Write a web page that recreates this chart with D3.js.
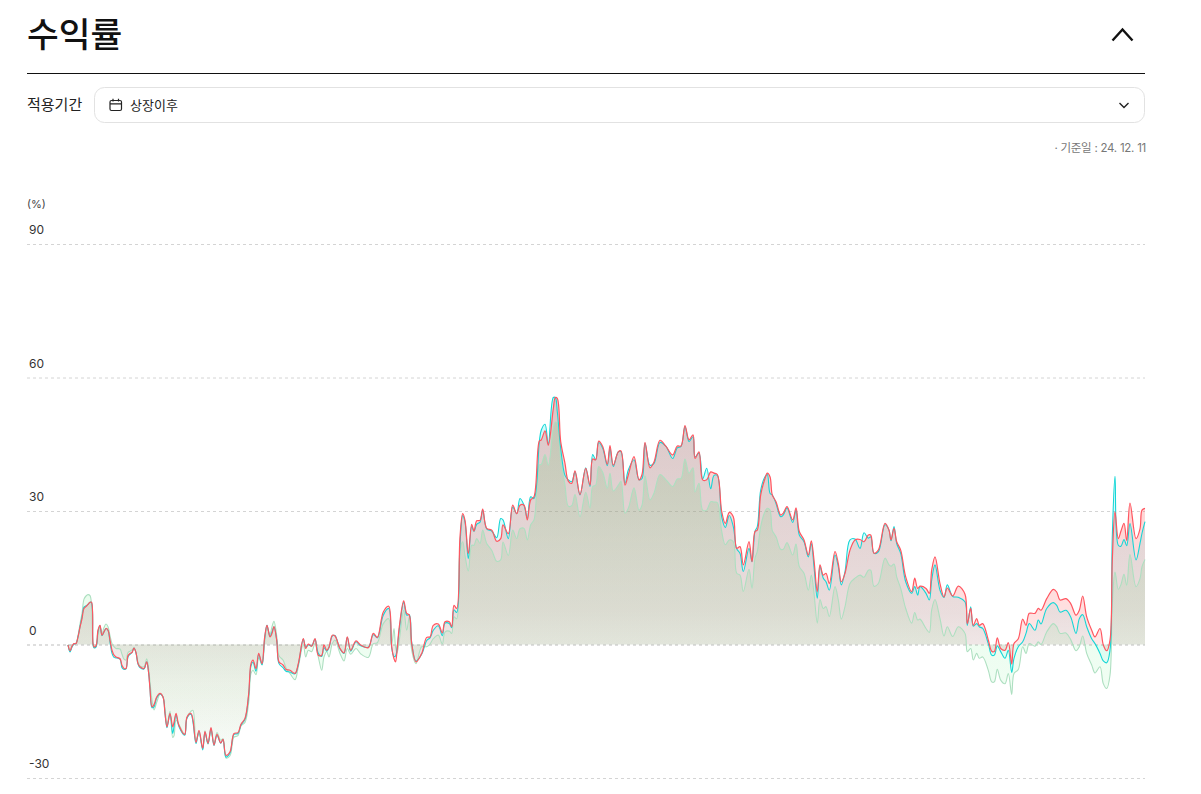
<!DOCTYPE html>
<html lang="ko">
<head>
<meta charset="utf-8">
<script src="https://cdn.jsdelivr.net/npm/d3@7/dist/d3.min.js"></script>
<style>
    html, body { margin: 0; padding: 0; background: #fff; }
    svg { display: block; }
    text { font-family: Inter, "Noto Sans CJK KR", sans-serif; }
</style>
</head>
<body>
<div id="chart"></div>
<script>
// chart values (returns in %)
const yTicks = [90, 60, 30, 0, -30];

const sessions = [
    0,2,4,6,8,10,12,14,16,18,
    20,22,23.5,25,26,28,30,32,34,36,
    38,40,42,44,46,48,52,54,56,58,
    60,62,64,66,68,70,72,76,78.7,80.7,
    82,84,86,88.7,92,95,97,99,102,104.7,
    106,108,111,116.7,119,123,125,128,131,134.7,
    137,140,143,146,149,152.7,155,158,162,166,
    170,173,177,180.7,183,185,188,190.7,194,196.7,
    199,202,204,206,208.7,211,215,218,222,227,
    230.3,235.3,237.7,240.3,243.7,247,250.3,253.7,256,258.7,
    261,264.3,267,272,276,279.3,282.7,288,292.7,300.3,
    305.3,309.3,315.3,320.7,323.7,326,327.5,329,331.3,335.7,
    338.7,341.3,343.7,348,353.7,358.7,362,365.3,370.3,374.3,
    377,381.3,383.7,386,388.7,392,394.7,397,400.3,403.7,
    406,408.7,412,414.7,418.7,423.7,428.7,432.7,435,440.3,
    444.7,448.7,452,456,459.3,462.7,466,471.3,473.3,477,
    480.3,485.3,487.3,489.3,492.7,497,500.3,503.7,507,512,
    517.7,522,524.7,527.7,530.7,534.7,539.3,542,545.3,550.3,
    553,557,560.3,566,571,574,577,582,586,592,
    598,604.7,609.3,613,617,621,625,627,631,634.7,
    638.7,642.7,646,649.3,653.7,657.3,661.3,665.3,668.7,672,
    675.3,681,684,687,689.3,692.7,697,699.3,702,704.3,
    708,712.7,715.3,719,724.7,728,731.3,736,740.3,743.3,
    746,749.3,752,755.3,758,761.3,767,770.3,773.3,777,
    782,787,792,796,800.3,802.7,806,810.3,817,821,
    823,826,828.7,832.7,837.7,843.7,846.7,849.7,852,858,
    861.3,863.7,867,872,876,879.3,884.7,890.3,897,899.3,
    902.7,905.3,908.7,911.3,914.7,920.3,923.7,926.3,929.3,932.7,
    937,940.3,943.7,946,950.3,954.7,958,961.3,967,970.3,
    973,978.7,985.3,988.7,992,998,1002.7,1008,1011.3,1014.7,
    1018.7,1023.7,1027,1032,1035.3,1038.7,1042,1044.3,1047,1050.3,
    1053,1056,1058.7,1062,1068,1072,1074,1077
];

const redSeries = [
    -0.1,-1.4,-0.4,0.2,0.2,1.7,3.9,5.8,8.1,8.5,
    9,9.5,9.5,0.2,-0.5,-0.3,3.2,4.3,2.1,2.9,
    3.6,3.2,1,-1.3,-2.4,-2.8,-3.2,-4.7,-5.4,-5.4,
    -2.5,-2,-1.8,-0.8,-1.8,-4.3,-5,-5.4,-3.9,-6.5,
    -10,-14,-13.5,-11.8,-11,-11.8,-15.5,-18.5,-15.5,-18.5,
    -17.5,-15.5,-18.2,-20.2,-16.3,-15.5,-17,-22,-19.3,-23.3,
    -19.6,-22.2,-18.7,-22.6,-20.2,-22.1,-21.3,-24.9,-24.1,-20,
    -19.8,-17.9,-16.6,-11,-4.3,-3.5,-5.4,-2,-4.3,1.7,
    4.3,1.7,2.5,4,1,-3.9,-4.6,-5.6,-5.8,-6.5,
    -4.3,1.3,-0.9,0.1,-0.4,1.3,-2.4,-2.4,-0.1,-1.3,
    -0.6,2.1,1.9,-0.9,-1.9,1.7,-1.3,0.8,-0.1,-0.7,
    2.5,1.6,7.3,8.6,-0.5,-3.2,-3.9,-1.5,4,9.8,
    7,6.6,0.2,-3.9,-2,1.6,1.7,4.3,4.6,2.6,
    5.1,5.1,4,8.8,8.1,24.2,29.4,27.9,20.4,27,
    25.5,27.8,27.9,30.4,26.1,25.7,23.2,23.8,26.9,24.9,
    31.3,29.4,31.3,31.3,28,32.5,33.2,45.7,46,48,
    44.8,53,55.5,55.3,45.6,40.7,36.7,36.2,39,33.7,
    39.6,35.8,41.7,41.5,45.7,44.5,40.5,44.7,40.3,43.3,
    43.5,35.8,38.1,42.2,37,38.2,45.4,39.7,41,45.9,
    44.5,42.6,44.6,44.6,49.2,46,47.1,41.8,43.3,37,
    37,38.8,38.5,38.2,29.9,27.2,29.7,28.7,21.6,22,
    17.9,23.1,18.6,25.4,25.7,33.6,37.3,38.5,37.7,33.6,
    32.1,29.1,29.5,31,28,30.7,25.4,23.5,20.1,23.3,
    19,11.9,17.9,15.6,16,13.7,20.9,18.2,14.1,16,
    21.2,23.5,23.6,23.1,24.6,24.6,20.5,21.2,27.2,25.7,
    23.5,26.1,23.1,21.2,15.2,11.9,14.9,12.6,13.1,12.6,
    11.5,16.7,19.7,13.7,10.7,12.7,10.9,13.1,11.3,4.7,
    8.1,4.3,5.8,4.3,4.7,1,-1.5,-1.6,1.5,-0.9,
    -1.3,0.4,-4.4,0.2,1.3,5.7,4.3,7,7,8.1,
    7.7,10.3,12.4,11.8,10,10.3,9.2,6.6,7.7,10.9,
    6.2,3.2,1.7,3.6,-0.1,-1.4,1,19,29.8,23.8,
    25.5,27.2,23.4,31.8,23.8,26,30.2,30.6
];

const cyanSeries = [
    -0.1,-1.7,-0.6,0.1,0.2,1.7,4,6.2,8.4,8.7,
    9,9.5,9.4,0,-0.7,-0.6,3,4.2,2,2.8,
    3.6,3.2,0.5,-2,-2.9,-3,-3.3,-5.2,-5.6,-5.5,
    -2.8,-2.2,-1.8,-0.8,-1.9,-4.4,-5.2,-5.5,-3.9,-6.5,
    -10,-14.2,-14,-12,-11.1,-11.8,-15.5,-18.7,-15.6,-20,
    -18.5,-15.8,-18.5,-20.4,-16.5,-15.7,-17.5,-22.3,-19.5,-23.7,
    -19.8,-22.3,-18.9,-22.7,-20.4,-22.2,-21.4,-25.3,-24.4,-20.2,
    -20,-18.1,-16.8,-11.3,-4.8,-4,-6,-2.2,-4.6,1.5,
    4.3,1.8,2.8,4,1,-4.3,-5.2,-6,-6.2,-6.6,
    -4.5,1.2,-0.6,-0.1,-0.3,1.2,-2,-2.7,-0.7,-1.5,
    -0.7,1.9,2,-1,-2,1.6,-1.5,0.6,-0.3,-0.6,
    2.2,1.5,6.6,8.1,-0.8,-2.7,-2.6,-1,3.4,9.5,
    6.6,6.7,0.5,-3.7,-2.2,0.9,1.5,3.2,4.2,2,
    4.8,4.7,3.8,7.8,7.2,22.5,29,27.5,19.3,26.5,
    25.4,27,27.5,30.2,26,25.5,24,28.3,28,23.8,
    30.9,29.4,32.8,31.3,28.4,33.2,32.8,45.5,48.2,49.5,
    45,55.5,55.5,52.3,44.1,38,37,36.6,38.8,33.6,
    39.7,35.5,42.7,41.5,45.4,44.1,40.2,44.1,40,43.3,
    43.3,36.2,39.2,41.5,37,37.3,45.2,40.3,40.7,45.4,
    44.5,41.8,44.2,44.5,49,45.6,46.7,42.2,43,37.2,
    39.6,35,38,38,28.7,26.3,29,26.5,21.5,20.5,
    16.4,21.6,18.6,25.4,26.5,34.7,37.7,38.2,34,33.6,
    31.7,28.7,29.1,30.7,27.4,30.2,24.6,23.1,19.7,22.7,
    17.5,10.4,17.5,14.9,14.1,12.2,20.1,17.5,13.4,16.4,
    23.5,23.7,21.6,25.1,23.9,24.2,20.5,20.8,26.9,25.7,
    23.3,26.5,22.7,20.5,14.1,11.5,13,11.1,13,11.5,
    10,14.5,17.9,12.2,10.6,13.4,10.8,10.6,9.6,4.3,
    8.5,4.1,4.7,4,3.6,0.2,-2.4,-2.4,-0.3,-1.6,
    -3.1,-1.3,-6.3,-3.1,-0.5,0.6,2.5,4.7,3.2,5.5,
    4.6,8.1,9.4,8.8,7.3,7.7,6.2,2.5,5.8,6.7,
    4,1.3,0.2,-2,-3.7,-4.1,-1.3,24.2,37.8,22.3,
    22.1,23.6,22.2,27.2,19,22.7,25,27.6
];

const greenSeries = [
    -0.1,-1.4,-0.4,0.2,0.3,2,4.6,7,10.2,10.9,
    11.2,11,9,0,-0.8,-0.3,2,4,2.4,3.8,
    4.6,4,2,0.2,-0.5,-0.9,-1,-2.2,-3.3,-3.5,
    -1.8,-1.5,-1.2,-0.8,-1.9,-4,-4.8,-5,-3.2,-5.5,
    -8.5,-12.5,-14.7,-13,-11.2,-11.8,-14.5,-18,-15,-20.9,
    -20.5,-17,-18,-20.2,-16.5,-15,-14.8,-21.5,-20,-23.5,
    -19.4,-22.4,-19.5,-22.3,-19.8,-21.5,-21.2,-25.5,-25,-20.8,
    -20.5,-18.3,-17.5,-13,-6.5,-5.8,-6.8,-3,-4.5,0.5,
    3.7,2.3,4,5.2,2,-2.5,-3.5,-5.2,-6.5,-7.9,
    -5,0,-2.8,-1.3,-1.6,0.2,-2.8,-5.8,-2.8,-1.6,
    -2.8,0.2,1,-2,-3.7,-0.9,-2.2,-0.9,-2.1,-2.9,
    0.2,0.4,4.7,5.8,0,3.6,-0.5,-2,1,7.7,
    3.2,6.2,-1.3,-4.3,-0.5,-0.5,0.1,1.3,2.1,0.1,
    2.8,3,2.5,6.2,5.8,21.2,23.1,20,16.5,22.3,
    22.3,23.8,22.7,25.7,22.7,21.2,18.7,19,23,20,
    25.7,23.8,26,26.1,23.5,26.9,28,40.3,40.5,42.7,
    40.3,48.6,50,49.7,41.8,35.8,31.1,31.2,33.7,28.7,
    34.2,30.7,35.5,35.8,40,38.7,35.1,38.5,34.5,35.8,
    36.7,29.5,30.6,35.2,30.2,31.3,37.9,32.5,34,38.2,
    37,35.5,37.2,37.3,41.7,38.5,39.7,34.3,36.2,30.2,
    30.2,32.1,32,31.9,25.4,22.4,23.5,23.1,16,15.6,
    11.9,16.9,12.6,19.4,20.9,26.5,29.9,30.6,30.2,25.6,
    24.2,21.4,21.4,22.9,20.1,22.6,17.5,16,12.2,15.6,
    11.5,4.8,10.1,8.1,8.5,6.3,13,10,5.7,8.5,
    13.7,14.9,15.6,15.1,16.7,16.7,13.1,13.7,19.4,17.9,
    17.6,18.1,15.2,12.6,8.1,4.8,7.2,5.5,5.7,3.6,
    2.7,7.8,10.1,5.8,1.9,4,1.8,4,2.5,-1.6,
    -0.9,-3.5,-2,-3.1,-2.8,-5.8,-8.4,-8.4,-5.6,-8,
    -8.8,-6.5,-11.2,-6.5,-5.6,-0.5,-2,0.2,-0.4,0.6,
    0,2.8,4.7,4,2.5,2.6,1.1,-1.4,-0.5,1.9,
    -2,-4.6,-6.4,-5,-8.8,-9.9,-6.9,9.2,16.3,12.4,
    13.5,15.8,13.3,20.2,13,14.8,17.5,19.1
];

const width = 1201, height = 794;

const svg = d3.select("#chart").append("svg")
    .attr("width", width)
    .attr("height", height);

// header
svg.append("text")
    .text("수익률")
    .attr("x", 27).attr("y", 47)
    .attr("font-size", 34.5).attr("font-weight", 500)
    .attr("fill", "#111");

// collapse arrow
svg.append("path")
    .attr("d", "M1112.5 40.5 L1122.5 29.5 L1132.5 40.5")
    .attr("fill", "none").attr("stroke", "#111").attr("stroke-width", 2.4);

svg.append("line")
    .attr("x1", 27).attr("x2", 1145)
    .attr("y1", 73.5).attr("y2", 73.5)
    .attr("stroke", "#111");

// period select
svg.append("text")
    .text("적용기간")
    .attr("x", 27).attr("y", 110)
    .attr("font-size", 15).attr("fill", "#222");

svg.append("rect")
    .attr("x", 94.5).attr("y", 87.5)
    .attr("width", 1050).attr("height", 35)
    .attr("rx", 10)
    .attr("fill", "#fff").attr("stroke", "#e2e2e2");

let cal = svg.append("g")
    .attr("fill", "none").attr("stroke", "#222").attr("stroke-width", 1.2);
cal.append("rect").attr("x", 110).attr("y", 100.5).attr("width", 11.5).attr("height", 10).attr("rx", 1.5);
cal.append("path").attr("d", "M110 103.8 H121.5 M113 98.8 V101.5 M118.5 98.8 V101.5");

svg.append("text")
    .text("상장이후")
    .attr("x", 130).attr("y", 109.5)
    .attr("font-size", 13).attr("font-weight", 400).attr("fill", "#222");

svg.append("path")
    .attr("d", "M1119.5 103 L1124 107.5 L1128.5 103")
    .attr("fill", "none").attr("stroke", "#222").attr("stroke-width", 1.4);

svg.append("text")
    .text("· 기준일 : 24. 12. 11")
    .attr("x", 1146).attr("y", 152)
    .attr("text-anchor", "end")
    .attr("font-size", 11.5).attr("letter-spacing", -0.25)
    .attr("fill", "#777");

svg.append("text")
    .text("(%)")
    .attr("x", 27).attr("y", 208)
    .attr("font-size", 11).attr("fill", "#444");

// Scales
const x = d3.scaleLinear()
    .domain([0, d3.max(sessions)])
    .range([68, 1145]);

const y = d3.scaleLinear()
    .domain([-30, 90])
    .range([778, 244]);

// Axis: the gridlines are the long ticks, labels sit on top of them
const yAxis = d3.axisRight(y)
    .tickValues(yTicks)
    .tickSize(1118)
    .tickFormat(d => d);

let axis = svg.append("g")
    .attr("class", "y-axis axis")
    .attr("transform", "translate(27,0)")
    .call(yAxis);

axis.select(".domain").remove();
axis.selectAll(".tick line")
    .attr("stroke", d => d === 0 ? "#bdbdbd" : "#d4d4d4")
    .attr("stroke-dasharray", "3 3");
axis.selectAll(".tick text")
    .attr("x", 2).attr("dy", -10.5)
    .attr("font-family", "Inter, sans-serif")
    .attr("font-size", 12).attr("fill", "#333");

// gradients, one per series; stops are [offset, opacity]
const seriesList = [
    {id: "green", values: greenSeries, line: "#addfc0", width: 1.1, fill: "#64f082",
        stops: [[0, 0.26], [0.6, 0.12], [0.8, 0.1], [1, 0.025]]},
    {id: "cyan", values: cyanSeries, line: "#14d6d6", width: 1.1, fill: "#00e5e5",
        stops: [[0, 0.2], [0.6, 0.1], [0.8, 0.025], [1, 0.005]]},
    {id: "red", values: redSeries, line: "#ff5660", width: 1.2, fill: "#ff5050",
        stops: [[0, 0.3], [0.6, 0.18], [0.8, 0.07], [1, 0.01]]}
];

let defs = svg.append("defs");
seriesList.forEach(s => {
    let grad = defs.append("linearGradient")
        .attr("id", "grad-" + s.id)
        .attr("x1", 0).attr("x2", 0).attr("y1", 0).attr("y2", 1);
    grad.selectAll("stop")
        .data(s.stops)
        .join("stop")
        .attr("offset", d => d[0])
        .attr("stop-color", s.fill)
        .attr("stop-opacity", d => d[1]);
});

const area = d3.area()
    .curve(d3.curveCatmullRom.alpha(0.5))
    .x(d => x(d.session))
    .y0(y(0))
    .y1(d => y(d.value));

const line = d3.line()
    .curve(d3.curveCatmullRom.alpha(0.5))
    .x(d => x(d.session))
    .y(d => y(d.value));

seriesList.forEach(s => {
    let rows = s.values.map((v, i) => ({session: sessions[i], value: v}));

    svg.append("path")
        .datum(rows)
        .attr("class", "area")
        .attr("d", area)
        .attr("fill", `url(#grad-${s.id})`);
});

seriesList.forEach(s => {
    let rows = s.values.map((v, i) => ({session: sessions[i], value: v}));

    svg.append("path")
        .datum(rows)
        .attr("class", "line")
        .attr("d", line)
        .attr("fill", "none")
        .attr("stroke", s.line)
        .attr("stroke-width", s.width);
});
</script>
</body>
</html>
